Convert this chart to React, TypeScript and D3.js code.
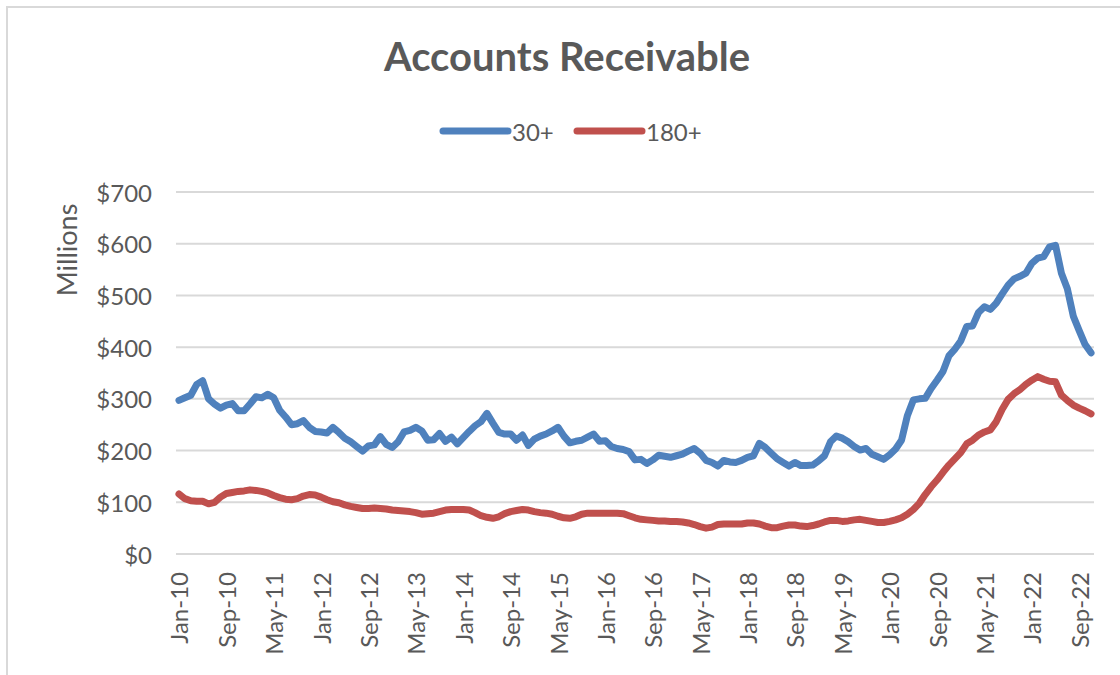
import React from 'react';
import * as d3 from 'd3';

// monthly categories Jan-10 .. Nov-22
const months = d3.timeMonth.range(new Date(2010, 0, 1), new Date(2022, 11, 1));
const fmt = d3.timeFormat('%b-%y');

const series30 = [
	297, 302, 307, 328, 335, 300, 290, 282, 288, 291, 277, 277,
	290, 304, 302, 309, 302, 278, 265, 250, 252, 258, 245, 237,
	236, 234, 245, 235, 224, 217, 208, 199, 209, 211, 227, 212,
	206, 217, 236, 239, 245, 238, 220, 221, 233, 218, 226, 213,
	225, 237, 248, 256, 272, 253, 235, 232, 232, 220, 230, 210,
	222, 228, 232, 238, 245, 228, 215, 218, 220, 226, 232, 218,
	219, 208, 204, 202, 198, 182, 183, 175, 182, 191, 189, 187,
	190, 193, 199, 204, 195, 181, 177, 170, 181, 178, 177, 181,
	187, 190, 214, 206, 195, 184, 177, 170, 177, 171, 171, 172,
	180, 190, 217, 228, 224, 217, 208, 201, 204, 193, 188, 183,
	192, 203, 220, 268, 298, 300, 301, 320, 336, 353, 383, 396,
	412, 440, 441, 467, 478, 473, 485, 503, 520, 532, 537, 543,
	562, 572, 575, 594, 597, 543, 513, 460, 432, 405, 389,
];

const series180 = [
	116, 107, 103, 102, 102, 97, 100, 110, 117, 119, 121, 122,
	124, 123, 121, 118, 113, 109, 106, 105, 107, 112, 115, 114,
	110, 105, 101, 99, 95, 92, 90, 88, 88, 89, 88, 87,
	85, 84, 83, 82, 80, 77, 78, 79, 82, 85, 86, 86,
	86, 85, 80, 74, 71, 69, 72, 78, 82, 84, 86, 85,
	82, 80, 79, 77, 73, 70, 69, 72, 77, 79, 79, 79,
	79, 79, 79, 78, 74, 70, 67, 66, 65, 64, 64, 63,
	63, 62, 60, 57, 53, 50, 52, 57, 58, 58, 58, 58,
	60, 60, 58, 54, 51, 51, 54, 56, 56, 54, 53, 55,
	58, 62, 65, 65, 63, 64, 66, 67, 65, 63, 61, 61,
	63, 66, 70, 77, 86, 98, 115, 130, 143, 158, 172, 184,
	196, 213, 220, 230, 236, 240, 256, 280, 299, 310, 318, 328,
	336, 343, 338, 334, 333, 307, 297, 288, 282, 277, 271,
];

const yTicks = [0, 100, 200, 300, 400, 500, 600, 700];
const seriesNames = ['30+', '180+'];
const colors = ['#4F81BD', '#C0504D'];

const W = 1120, H = 675;
const FONT = 'Lato, "Open Sans", sans-serif';
const GRAY = '#595959';

export default function App() {
	const x = d3.scalePoint<number>()
		.domain(months.map((_, i) => i))
		.range([176, 1094])
		.padding(0.5);
	const y = d3.scaleLinear().domain([0, 700]).range([554, 192]);

	const line = d3.line<number>()
		.x((_, i) => x(i) as number)
		.y(d => y(d));

	const tickIdx = months.map((_, i) => i).filter(i => i % 8 === 0);

	return (
		<svg width={W} height={H} style={{ position: 'absolute', left: 0, top: 0, background: '#fff' }}
			fontFamily={FONT}>
			<rect x={7} y={7} width={W + 20} height={H + 20} fill="#fff" stroke="#D9D9D9" strokeWidth={2} />

			<text x={567} y={71} textAnchor="middle" fontSize={40} fontWeight="bold" fill={GRAY}>
				Accounts Receivable
			</text>

			{/* legend */}
			{seriesNames.map((name, k) => {
				const x0 = k === 0 ? 443 : 577;
				return (
					<g key={name}>
						<line x1={x0} x2={x0 + 65} y1={131} y2={131} stroke={colors[k]} strokeWidth={7} strokeLinecap="round" />
						<text x={x0 + 69} y={131} dominantBaseline="central" fontSize={24} fill={GRAY}>{name}</text>
					</g>
				);
			})}

			{/* gridlines + y labels */}
			{yTicks.map(t => (
				<g key={t}>
					<line x1={176} x2={1094} y1={y(t)} y2={y(t)} stroke="#D9D9D9" strokeWidth={2} />
					<text x={152} y={y(t)} textAnchor="end" dominantBaseline="central" fontSize={24} fill={GRAY}>
						{d3.format('$,')(t)}
					</text>
				</g>
			))}

			<text transform="translate(66,250) rotate(-90)" textAnchor="middle" dominantBaseline="central"
				fontSize={27} fill={GRAY}>Millions</text>

			{/* x labels */}
			{tickIdx.map(i => (
				<text key={i} transform={`translate(${x(i)},572) rotate(-90)`} textAnchor="end"
					dominantBaseline="central" fontSize={24} fill={GRAY}>
					{fmt(months[i])}
				</text>
			))}

			{[series30, series180].map((s, k) => (
				<path key={k} d={line(s) || ''} fill="none" stroke={colors[k]} strokeWidth={7}
					strokeLinejoin="round" strokeLinecap="round" />
			))}
		</svg>
	);
}
